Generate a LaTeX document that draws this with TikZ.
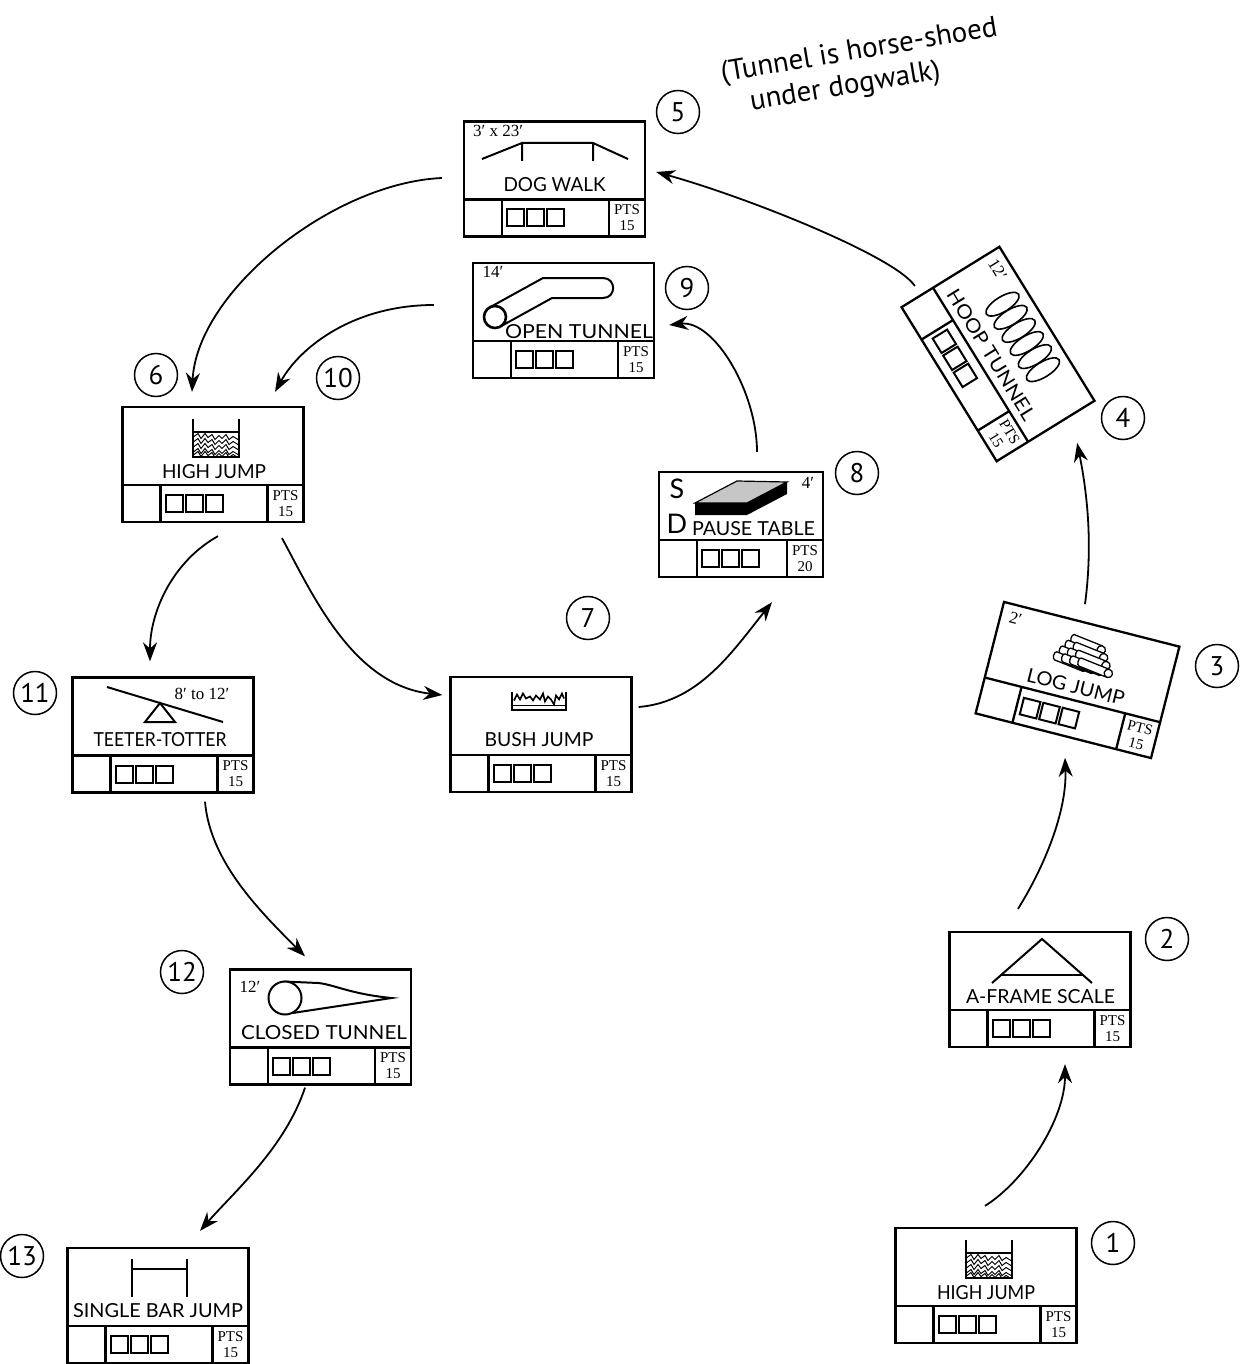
\documentclass[tikz,border=0pt]{standalone}
\usepackage{fontspec}
\setmainfont{Lato}
\newfontfamily\numfont{PT Sans}
\newfontfamily\dimfont{Liberation Serif}
\usetikzlibrary{arrows.meta}

\tikzstyle{station} = [style={draw, line width=2.3pt, minimum width=181pt, minimum height=115pt, inner sep=0pt, transform shape}]
\tikzstyle{lbl} = [style={anchor=base, inner sep=0pt, transform shape, font=\fontsize{18.5}{20}\selectfont}]
\tikzstyle{dim} = [style={inner sep=0pt, transform shape, font=\dimfont\fontsize{17}{17}\selectfont}]
\tikzstyle{pts} = [style={inner sep=0pt, align=center, transform shape, font=\dimfont\fontsize{15}{16}\selectfont}]
\tikzstyle{icon} = [style={line width=2pt}]
\tikzstyle{num} = [style={circle, draw, line width=1.5pt, minimum size=43pt, inner sep=0pt, font=\numfont\fontsize{27}{27}\selectfont}]
\tikzstyle{note} = [style={align=left, inner sep=0pt, font=\numfont\fontsize{29}{33}\selectfont}]
\tikzstyle{arr} = [style={-{Stealth[length=19pt,width=14pt]}, line width=1.8pt}]

% label squeezed to the width it has in the plan
\newcommand*{\fitlbl}[2]{\resizebox{#1pt}{14pt}{#2}}

% box with score strip: name, width, height, points
\newcommand*{\stationbox}[4]{%
  \node[station, minimum width=#2pt, minimum height=#3pt] (#1) at (0,0) {};
  \draw[line width=2.3pt] ({-#2/2},{#3/2-37}) -- ({#2/2},{#3/2-37})
    ({-#2/2+38},{#3/2-37}) -- ({-#2/2+38},{#3/2})
    ({#2/2-36},{#3/2-37}) -- ({#2/2-36},{#3/2});
  \foreach \k in {0,1,2}
    {\draw[line width=2pt] ({-#2/2+43+20*\k},{#3/2-27}) rectangle +(17,17);}
  \node[pts] at ({#2/2-18},{#3/2-18.5}) {PTS\\#4};
}

% high jump filler
\newcommand*{\hjicon}{%
  \draw[line width=1.2pt] (-20,-32.5) -- (26,-32.5);
  \foreach \r in {-28,-23,-18,-13,-10}
    {\draw[line width=1pt] (-19,\r) -- ++(4,-3) -- ++(3,5) -- ++(4,-5) -- ++(3,4) -- ++(4,-3) -- ++(3,5) -- ++(4,-4) -- ++(3,3) -- ++(4,-4) -- ++(3,5) -- ++(4,-3) -- ++(5,3);}
  \draw[icon] (-20,-45.5) -- (-20,-7.5) -- (26,-7.5) -- (26,-45.5);
}

\begin{document}
\begin{tikzpicture}[x=1pt, y=-1pt]
\useasboundingbox (0,0) rectangle (1251,1364);

%% 1 high jump
\begin{scope}[shift={(986,1285.5)}]
  \stationbox{hjone}{181}{115}{15}
  \hjicon
  \node[lbl] at (0,13.5) {\fitlbl{98}{HIGH JUMP}};
\end{scope}

%% 2 a-frame
\begin{scope}[shift={(1040,989.5)}]
  \stationbox{aframe}{181}{115}{15}
  \draw[icon] (-48,-6.5) -- (2,-50.5) -- (52,-6.5);
  \draw[icon] (-38.9,-14.5) -- (42.9,-14.5);
  \node[lbl] at (0.5,13.5) {\fitlbl{149}{A-FRAME SCALE}};
\end{scope}

%% 3 log jump
\begin{scope}[shift={(1077.5,680)}, rotate=-14.3]
  \stationbox{logs}{181}{115}{15}
  \foreach \row/\n in {3/1,2/2,1/3,0/4}
    \foreach \i in {1,...,\n}
      {\filldraw[fill=white, line width=1.3pt]
         ({3+4.2*\row+8.4*(\i-1)},{-14-7*\row-4.2}) -- ++(-30,-4)
         .. controls +(-3,0) and +(-3,0) .. ++(0,8.4) -- ({3+4.2*\row+8.4*(\i-1)},{-14-7*\row+4.2});
       \filldraw[fill=white, line width=1.3pt] ({3+4.2*\row+8.4*(\i-1)},{-14-7*\row}) circle (4.2);}
  \node[dim] at (-75,-44) {2′};
  \node[lbl] at (0,14) {\fitlbl{100}{LOG JUMP}};
\end{scope}

%% 4 hoop tunnel
\begin{scope}[shift={(998,354)}, rotate=-58.3]
  \stationbox{hoops}{181}{115}{15}
  \foreach \i in {0,...,5}
    {\draw[line width=1.6pt] ({-40+15.4*\i},-30) ellipse (7.5 and 19);}
  \node[dim] at (-72,-44) {12′};
  \node[lbl] at (-3,13) {\fitlbl{150}{HOOP TUNNEL}};
\end{scope}

%% 5 dog walk
\begin{scope}[shift={(554.5,179)}]
  \stationbox{dogwalk}{181}{115}{15}
  \draw[icon] (-72.5,-20) -- (-32.5,-36) -- (38.5,-36) -- (73.5,-20)
    (-32.5,-36) -- (-32.5,-18) (38.5,-36) -- (38.5,-18);
  \node[dim] at (-56.5,-48) {3′ x 23′};
  \node[lbl] at (0,13) {\fitlbl{102}{DOG WALK}};
\end{scope}

%% 6 and 10 high jump
\begin{scope}[shift={(213,464.5)}]
  \stationbox{hjtwo}{181}{115}{15}
  \hjicon
  \node[lbl] at (1,13.5) {\fitlbl{104}{HIGH JUMP}};
\end{scope}

%% 7 bush jump
\begin{scope}[shift={(541,734.5)}]
  \stationbox{bush}{181}{115}{15}
  \draw[icon] (-29,-42.5) -- (-29,-24.5) -- (25,-24.5) -- (25,-42.5);
  \draw[line width=1.6pt] (-29,-29) -- (25,-29);
  \draw[line width=1.6pt] (-27,-34) -- (-24,-40) -- (-21,-35) -- (-18,-41) -- (-15,-36) -- (-11,-38) -- (-8,-34) -- (-5,-39) -- (-1,-35) -- (2,-41) -- (4,-33) -- (7,-38) -- (10,-35) -- (13,-30) -- (15,-39) -- (18,-35) -- (21,-41) -- (23,-36);
  \node[lbl] at (-2,11.5) {\fitlbl{109}{BUSH JUMP}};
\end{scope}

%% 8 pause table
\begin{scope}[shift={(741,524.5)}]
  \stationbox{pause}{164}{105}{20}
  \filldraw[fill=gray!45, line width=1.2pt] (-46,-21.5) -- (-4,-43.5) -- (46,-42.5) -- (6,-21.5) -- cycle;
  \fill (-46,-21.5) -- (6,-21.5) -- (46,-42.5) -- (46,-30.5) -- (6,-9.5) -- (-46,-9.5) -- cycle;
  \node[lbl, font=\fontsize{27}{27}\selectfont] at (-64,-26) {S};
  \node[lbl, font=\fontsize{27}{27}\selectfont] at (-64,9) {D};
  \node[dim] at (67,-41.5) {4′};
  \node[lbl] at (12.5,10.5) {\fitlbl{123}{PAUSE TABLE}};
\end{scope}

%% 9 open tunnel
\begin{scope}[shift={(563.5,320.5)}]
  \stationbox{opent}{181}{115}{15}
  \draw[icon] (-73.8,-13.1) -- (-20.5,-42.5) -- (39.5,-42.5)
    .. controls (53,-42.5) and (53,-22.5) .. (39.5,-22.5) -- (-11.5,-22.5) -- (-63.2,6.1);
  \filldraw[fill=white, line width=2.6pt] (-68.5,-3.5) circle (11);
  \node[dim] at (-70.5,-48.5) {14′};
  \node[lbl] at (15.5,17.5) {\fitlbl{148}{OPEN TUNNEL}};
\end{scope}

%% 11 teeter-totter
\begin{scope}[shift={(163,735)}]
  \stationbox{teeter}{181}{115}{15}
  \draw[icon] (-56,-48) -- (60,-13);
  \draw[icon] (-3,-32) -- (-18,-13) -- (12,-13) -- cycle;
  \node[dim] at (39,-41) {8′ to 12′};
  \node[lbl] at (-3,11) {\fitlbl{133}{TEETER-TOTTER}};
\end{scope}

%% 12 closed tunnel
\begin{scope}[shift={(320.5,1027)}]
  \stationbox{closedt}{181}{115}{15}
  \draw[icon] (-37,-45.5) -- (-2,-44) .. controls (15,-42) and (30,-33) .. (71,-29) -- (-28,-14);
  \filldraw[fill=white, line width=2pt] (-35.5,-29) circle (16.5);
  \node[dim] at (-70.5,-40) {12′};
  \node[lbl] at (3.5,12) {\fitlbl{166}{CLOSED TUNNEL}};
\end{scope}

%% 13 single bar
\begin{scope}[shift={(158,1305.5)}]
  \stationbox{bar}{181}{115}{15}
  \draw[icon] (-26,-46.5) -- (-26,-8.5) (29,-46.5) -- (29,-8.5) (-26,-36.5) -- (29,-36.5);
  \node[lbl] at (0,11.5) {\fitlbl{170}{SINGLE BAR JUMP}};
\end{scope}

%% numbers
\node[num] (n1) at (1113,1243) {1};
\node[num] (n2) at (1167,939) {2};
\node[num] (n3) at (1217,666) {3};
\node[num] (n4) at (1123,418) {4};
\node[num] (n5) at (678,112) {5};
\node[num] (n6) at (156,375) {6};
\node[num] (n7) at (588,618) {7};
\node[num] (n8) at (857,473) {8};
\node[num] (n9) at (687,288) {9};
\node[num] (n10) at (338,378) {10};
\node[num] (n11) at (35,693) {11};
\node[num] (n12) at (182,972) {12};
\node[num] (n13) at (22,1256) {13};

\node[note, rotate=9.5] (remark) at (862,68) {(Tunnel is horse-shoed\\\hspace*{24pt}under dogwalk)};

%% course
\draw[arr] ([xshift=-1pt,yshift=21pt]hjone.north) .. controls +(40,-25) and +(0,55) .. ([xshift=25pt,yshift=-16pt]aframe.south);
\draw[arr] ([xshift=-22pt,yshift=22pt]aframe.north) .. controls +(25,-40) and +(2,55) .. ([xshift=2pt,yshift=-21pt]logs.south);
\draw[arr] ([xshift=-7pt,yshift=19pt]logs.north) .. controls +(8,-60) and +(10,50) .. ([xshift=31pt,yshift=-11pt]hoops.east);
\draw[arr] ([xshift=-35pt,yshift=-10pt]hoops.west) .. controls +(-20,-30) and +(90,25) .. ([xshift=10pt,yshift=7pt]dogwalk.east);
\draw[arr] ([xshift=-21pt,yshift=1pt]dogwalk.west) .. controls +(-110,5) and +(5,-100) .. ([xshift=-21pt,yshift=14pt]hjtwo.north);
\draw[arr] ([xshift=-38pt,yshift=15.5pt]opent.west) .. controls +(-80,0) and +(25,-45) .. ([xshift=62pt,yshift=14pt]hjtwo.north);
\draw[arr] ([xshift=5pt,yshift=-13pt]hjtwo.south) .. controls +(-45,25) and +(0,-50) .. ([xshift=-13pt,yshift=15pt]teeter.north);
\draw[arr] ([xshift=69pt,yshift=-15pt]hjtwo.south) .. controls +(30,55) and +(-90,-10) .. ([xshift=-7pt,yshift=39.5pt]bush.west);
\draw[arr] ([xshift=6pt,yshift=27.5pt]bush.east) .. controls +(60,-5) and +(-40,50) .. ([xshift=31pt,yshift=-24pt]pause.south);
\draw[arr] ([xshift=16pt,yshift=19pt]pause.north) .. controls +(0,-60) and +(45,-5) .. ([xshift=14pt,yshift=-4.5pt]opent.east);
\draw[arr] ([xshift=42pt,yshift=-8pt]teeter.south) .. controls +(5,60) and +(-45,-45) .. ([xshift=-15.5pt,yshift=12pt]closedt.north);
\draw[arr] ([xshift=-15.5pt,yshift=-2pt]closedt.south) .. controls +(-20,60) and +(35,-40) .. ([xshift=42pt,yshift=16pt]bar.north);

\end{tikzpicture}
\end{document}
